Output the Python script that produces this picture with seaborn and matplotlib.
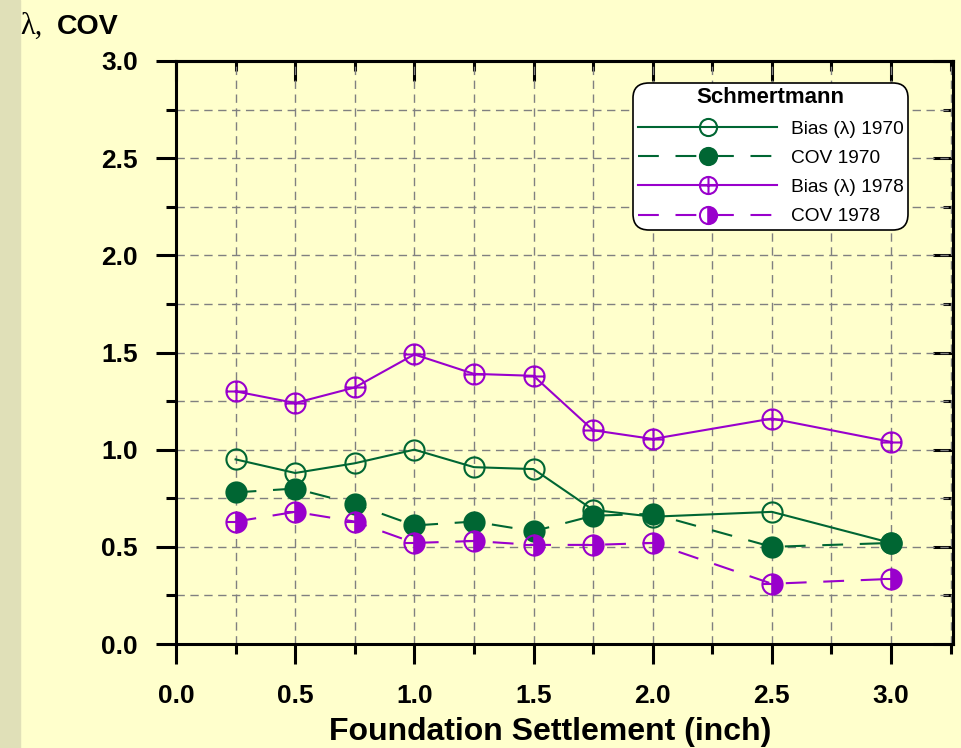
import numpy as np
import pandas as pd
import matplotlib
matplotlib.use("Agg")
import matplotlib.pyplot as plt
import seaborn as sns
from matplotlib.path import Path
from matplotlib.patches import Rectangle
from matplotlib.ticker import MultipleLocator

# ---- data ----
settlement = [0.25, 0.5, 0.75, 1.0, 1.25, 1.5, 1.75, 2.0, 2.5, 3.0]
bias_1970 = [0.95, 0.88, 0.93, 1.00, 0.91, 0.90, 0.69, 0.655, 0.68, 0.52]
cov_1970 = [0.78, 0.80, 0.72, 0.61, 0.63, 0.58, 0.66, 0.67, 0.50, 0.52]
bias_1978 = [1.30, 1.24, 1.32, 1.49, 1.39, 1.38, 1.10, 1.055, 1.16, 1.04]
cov_1978 = [0.63, 0.68, 0.63, 0.52, 0.53, 0.51, 0.51, 0.52, 0.31, 0.335]
series_labels = ["Bias (λ) 1970", "COV 1970", "Bias (λ) 1978", "COV 1978"]
x_ticks = [0.0, 0.5, 1.0, 1.5, 2.0, 2.5, 3.0]
y_ticks = [0.0, 0.5, 1.0, 1.5, 2.0, 2.5, 3.0]

df = pd.DataFrame({
    "settlement": settlement * 4,
    "value": bias_1970 + cov_1970 + bias_1978 + cov_1978,
    "series": [s for s in series_labels for _ in settlement],
})

GREEN = "#006633"
PURPLE = "#9900CC"
BG = "#FFFFCC"

plt.rcParams["font.family"] = ["Liberation Sans", "DejaVu Sans"]

fig = plt.figure(figsize=(9.61, 7.48), dpi=100, facecolor=BG)
fig.patches.append(Rectangle((0, 0), 20 / 961, 1, transform=fig.transFigure,
                             color="#E0E0B8", zorder=0))
ax = fig.add_axes([176 / 961, (748 - 644) / 748, (953 - 176) / 961, (644 - 61) / 748])
ax.set_facecolor(BG)

# custom marker: circle with a cross
circ = Path.unit_circle()
verts = list(circ.vertices) + [(-1, 0), (1, 0), (0, -1), (0, 1)]
codes = list(circ.codes) + [Path.MOVETO, Path.LINETO, Path.MOVETO, Path.LINETO]
circle_plus = Path(verts, codes)
half_line = Path([(-1, 0), (0, 0)], [Path.MOVETO, Path.LINETO])

MS = 14.5
MEW = 1.5
LW = 1.5
DASH = (0, (10, 8))

styles = {
    "Bias (λ) 1970": dict(color=GREEN, linestyle="-", marker="o", mfc="none", mec=GREEN),
    "COV 1970": dict(color=GREEN, linestyle=DASH, marker="o", mfc=GREEN, mec=GREEN),
    "Bias (λ) 1978": dict(color=PURPLE, linestyle="-", marker=circle_plus, mfc="none", mec=PURPLE),
    "COV 1978": dict(color=PURPLE, linestyle=DASH, marker="o", mfc=PURPLE, mec=PURPLE,
                     fillstyle="right", markerfacecoloralt="none"),
}

for name in series_labels:
    sub = df[df["series"] == name]
    sns.lineplot(data=sub, x="settlement", y="value", ax=ax, label=name,
                 markersize=MS, markeredgewidth=MEW, linewidth=LW, zorder=3,
                 **styles[name])
    if name == "COV 1978":
        ax.plot(sub["settlement"], sub["value"], linestyle="none", marker=half_line,
                markersize=MS, markeredgewidth=MEW, color=PURPLE, zorder=4)

ax.set_xlim(0, 3.26)
ax.set_ylim(0, 3.0)
ax.xaxis.set_major_locator(MultipleLocator(0.5))
ax.xaxis.set_minor_locator(MultipleLocator(0.25))
ax.yaxis.set_major_locator(MultipleLocator(0.5))
ax.yaxis.set_minor_locator(MultipleLocator(0.25))
ax.set_xticks(x_ticks)
ax.set_yticks(y_ticks)
ax.set_xticklabels([f"{v:.1f}" for v in x_ticks])
ax.set_yticklabels([f"{v:.1f}" for v in y_ticks])

ax.grid(which="both", color="#808080", linestyle=(0, (6, 4)), linewidth=1.0)
ax.set_axisbelow(True)

for sp in ax.spines.values():
    sp.set_linewidth(2.2)
    sp.set_color("black")

ax.tick_params(which="major", direction="out", length=14.5, width=2.2, labelsize=19)
ax.tick_params(axis="x", which="major", pad=14)
ax.tick_params(axis="y", which="major", pad=13)
ax.tick_params(which="minor", direction="out", length=7.2, width=2.2)
for lab in ax.get_xticklabels() + ax.get_yticklabels():
    lab.set_fontweight("bold")

# inward ticks on top and right
secx = ax.secondary_xaxis("top")
secx.xaxis.set_major_locator(MultipleLocator(0.5))
secx.xaxis.set_minor_locator(MultipleLocator(0.25))
secx.tick_params(which="major", direction="in", length=14.5, width=2.2, labeltop=False)
secx.tick_params(which="minor", direction="in", length=7.2, width=2.2)
secx.spines["top"].set_linewidth(2.2)
secy = ax.secondary_yaxis("right")
secy.yaxis.set_major_locator(MultipleLocator(0.5))
secy.yaxis.set_minor_locator(MultipleLocator(0.25))
secy.tick_params(which="major", direction="in", length=14.5, width=2.2, labelright=False)
secy.tick_params(which="minor", direction="in", length=7.2, width=2.2)
secy.spines["right"].set_linewidth(2.2)

ax.set_xlabel("Foundation Settlement (inch)", fontsize=23, fontweight="bold")
ax.xaxis.set_label_coords((550 - 176) / 777, -0.125)
ax.set_ylabel("")

fig.text(20 / 961, 1 - 34 / 748, "λ,", fontsize=22, family="Liberation Serif",
         va="baseline", ha="left")
fig.text(57 / 961, 1 - 34 / 748, "COV", fontsize=20.5, fontweight="bold",
         va="baseline", ha="left")

leg = ax.legend(loc="upper right", bbox_to_anchor=((908 - 176) / 777, (644 - 83) / 583),
                borderaxespad=0, fontsize=13.8, handlelength=7.3, handletextpad=0.7,
                labelspacing=0.62, borderpad=0.22, markerscale=0.85, frameon=True,
                fancybox=True, facecolor="white", edgecolor="black", framealpha=1)
leg.set_title("Schmertmann", prop={"weight": "bold", "size": 16})
leg.get_frame().set_linewidth(1.2)
leg.get_frame().set_boxstyle("round", pad=0, rounding_size=0.8)
leg.set_zorder(10)

fig.savefig("out.png", dpi=100, facecolor=BG)
